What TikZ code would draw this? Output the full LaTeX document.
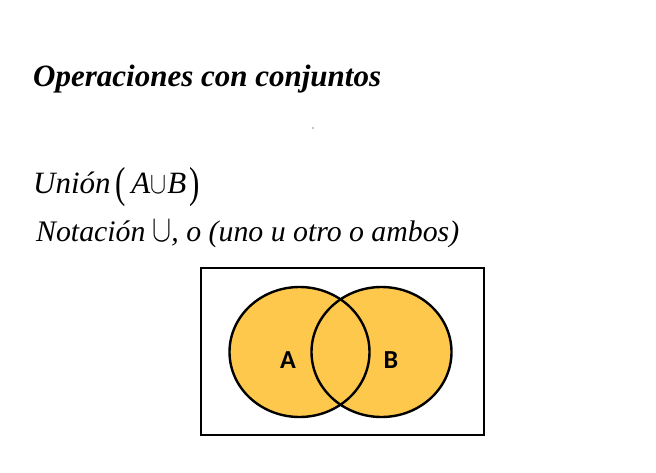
\documentclass[tikz,border=0pt]{standalone}
\usepackage{fontspec}
\usepackage{graphicx}
\setmainfont{Liberation Serif}
\newfontfamily\labfont{Carlito}
\newcommand\cupsym[2]{\resizebox{#1}{#2}{$\cup$}}
\newcommand\tallparen[1]{\raisebox{-4pt}{\scalebox{1}[1.4]{\upshape #1}}}
\definecolor{venn}{RGB}{254,200,76}
\tikzset{
  setfill/.style={fill=venn},
  setline/.style={draw=black, line width=2.4pt},
  frame/.style={draw=black, line width=1.8pt},
  setlabel/.style={font=\labfont\bfseries\fontsize{26}{30}\selectfont},
  txt/.style={anchor=base west, inner sep=0pt, font=\itshape\fontsize{31}{36}\selectfont}
}
\begin{document}
\begin{tikzpicture}[x=1pt,y=-1pt]
\useasboundingbox (0,0) rectangle (656,472);
\node[txt, font=\bfseries\itshape\fontsize{31}{36}\selectfont] (title) at (33,86) {Operaciones con conjuntos};
\fill (313,128) circle (0.7);
\node[txt] (union) at (33,193) {Unión\,\tallparen{(}\,A\hspace{0pt}\cupsym{16pt}{17pt}\hspace{1pt}B\hspace{3pt}\tallparen{)}};
\node[txt, font=\itshape\fontsize{29.8}{36}\selectfont] (notac) at (36,241) {Notación\hspace{7pt}\cupsym{19pt}{21pt}, o (uno u otro o ambos)};
\node[frame, minimum width=283, minimum height=167, inner sep=0pt] (box) at (342.5,351.5) {};
\fill[setfill] (299.5,352) ellipse [x radius=70, y radius=65];
\fill[setfill] (381.5,352) ellipse [x radius=70, y radius=65];
\draw[setline] (299.5,352) ellipse [x radius=70, y radius=65];
\draw[setline] (381.5,352) ellipse [x radius=70, y radius=65];
\node[setlabel] (a) at (288,360) {A};
\node[setlabel] (b) at (391,360) {B};
\end{tikzpicture}
\end{document}
